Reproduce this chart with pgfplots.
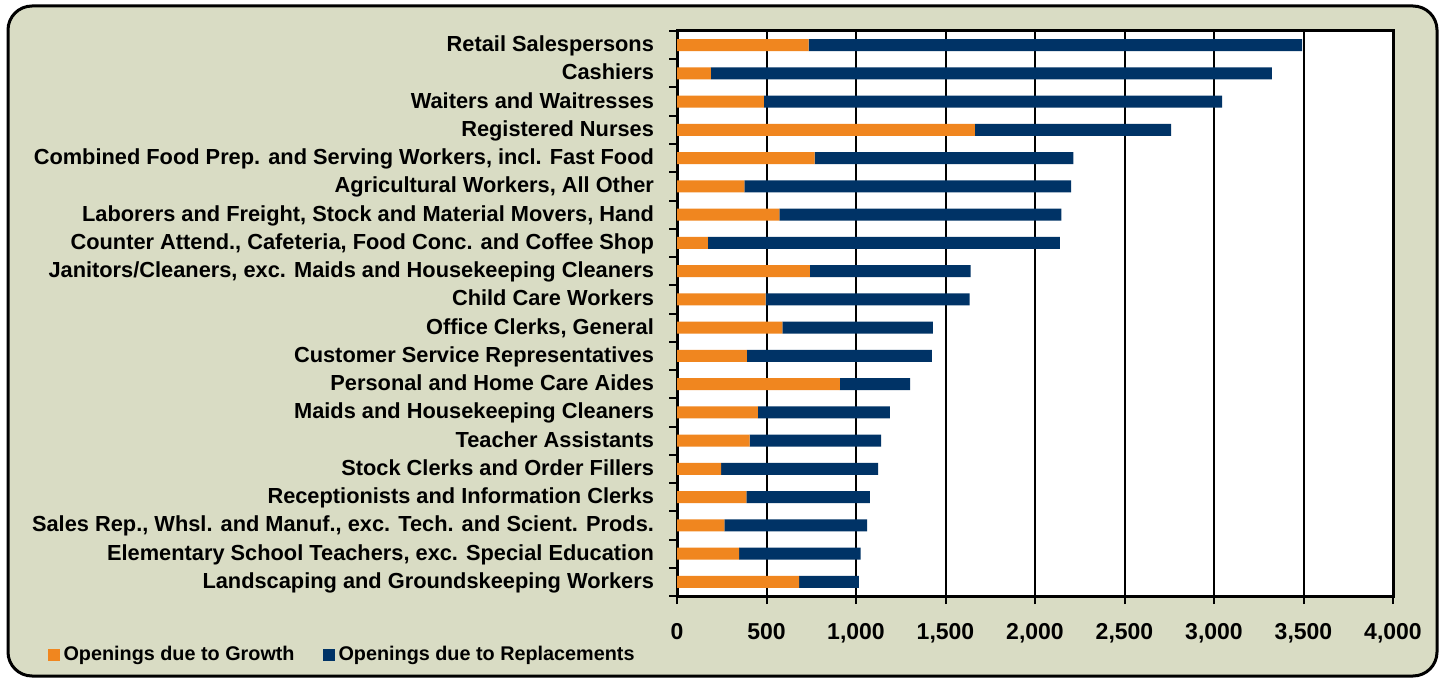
\documentclass[border=0pt]{standalone}
\usepackage{pgfplots}
\pgfplotsset{compat=1.18}
\usepackage{fontspec}
\setmainfont{Liberation Sans}
\definecolor{bgc}{RGB}{217,220,196}
\definecolor{orng}{RGB}{240,134,31}
\definecolor{navy}{RGB}{0,51,102}
\begin{document}
\begin{tikzpicture}[x=1pt,y=1pt]
\path (0,0) rectangle (722.5,340.5);
\draw[line width=1.5pt, fill=bgc, rounded corners=12pt] (4,2.5) rectangle (718.5,337.5);
\begin{axis}[at={(338.5pt,42.5pt)}, anchor=south west, scale only axis,
  width=358pt, height=282.5pt,
  xbar stacked, bar width=6pt,
  xmin=0, xmax=4000, ymin=-0.5, ymax=19.5,
  axis background/.style={fill=white},
  axis line style={line width=1.5pt},
  xtick={0,500,...,4000},
  xtick pos=bottom, ytick pos=left,
  xmajorgrids, major grid style={black, line width=1pt},
  tick align=outside, major tick length=4pt,
  tick style={black, line width=1pt},
  ytick={-0.5,0.5,...,19.5}, yticklabels={},
  extra y ticks={0,...,19},
  extra y tick style={major tick length=0pt, grid=none},
  extra y tick labels={Landscaping and Groundskeeping Workers,
    {Elementary School Teachers, exc. Special Education},
    {Sales Rep., Whsl. and Manuf., exc. Tech. and Scient. Prods.},
    Receptionists and Information Clerks,
    Stock Clerks and Order Fillers,
    Teacher Assistants,
    Maids and Housekeeping Cleaners,
    Personal and Home Care Aides,
    Customer Service Representatives,
    {Office Clerks, General},
    Child Care Workers,
    {Janitors/Cleaners, exc. Maids and Housekeeping Cleaners},
    {Counter Attend., Cafeteria, Food Conc. and Coffee Shop},
    {Laborers and Freight, Stock and Material Movers, Hand},
    {Agricultural Workers, All Other},
    {Combined Food Prep. and Serving Workers, incl. Fast Food},
    Registered Nurses,
    Waiters and Waitresses,
    Cashiers,
    Retail Salespersons},
  y tick label style={font=\bfseries\fontsize{10.9}{12}\selectfont, xshift=-8pt,
    text height=1.55ex, text depth=0.3ex},
  x tick label style={font=\bfseries\fontsize{11.5}{13}\selectfont, yshift=-6pt},
  /pgf/number format/.cd, 1000 sep={,}, assume math mode=true,
  /pgfplots/.cd,
  legend columns=2,
  legend style={at={(-0.888,-0.104)}, anchor=west, draw=none, fill=none,
    font=\bfseries\fontsize{9.9}{11}\selectfont,
    /tikz/every even column/.append style={column sep=12pt}},
  legend image code/.code={\fill[#1] (0pt,-3pt) rectangle (6pt,3pt);},
]
\addplot[fill=orng, draw=none] coordinates {(682,0) (347,1) (265,2) (387,3) (246,4) (406,5) (452,6) (910,7) (390,8) (588,9) (495,10) (742,11) (172,12) (572,13) (376,14) (769,15) (1664,16) (485,17) (189,18) (735,19)};
\addplot[fill=navy, draw=none] coordinates {(334,0) (679,1) (797,2) (691,3) (878,4) (734,5) (737,6) (393,7) (1034,8) (842,9) (1140,10) (898,11) (1967,12) (1575,13) (1826,14) (1446,15) (1096,16) (2561,17) (3134,18) (2758,19)};
\legend{Openings due to Growth, Openings due to Replacements}
\end{axis}
\end{tikzpicture}
\end{document}
